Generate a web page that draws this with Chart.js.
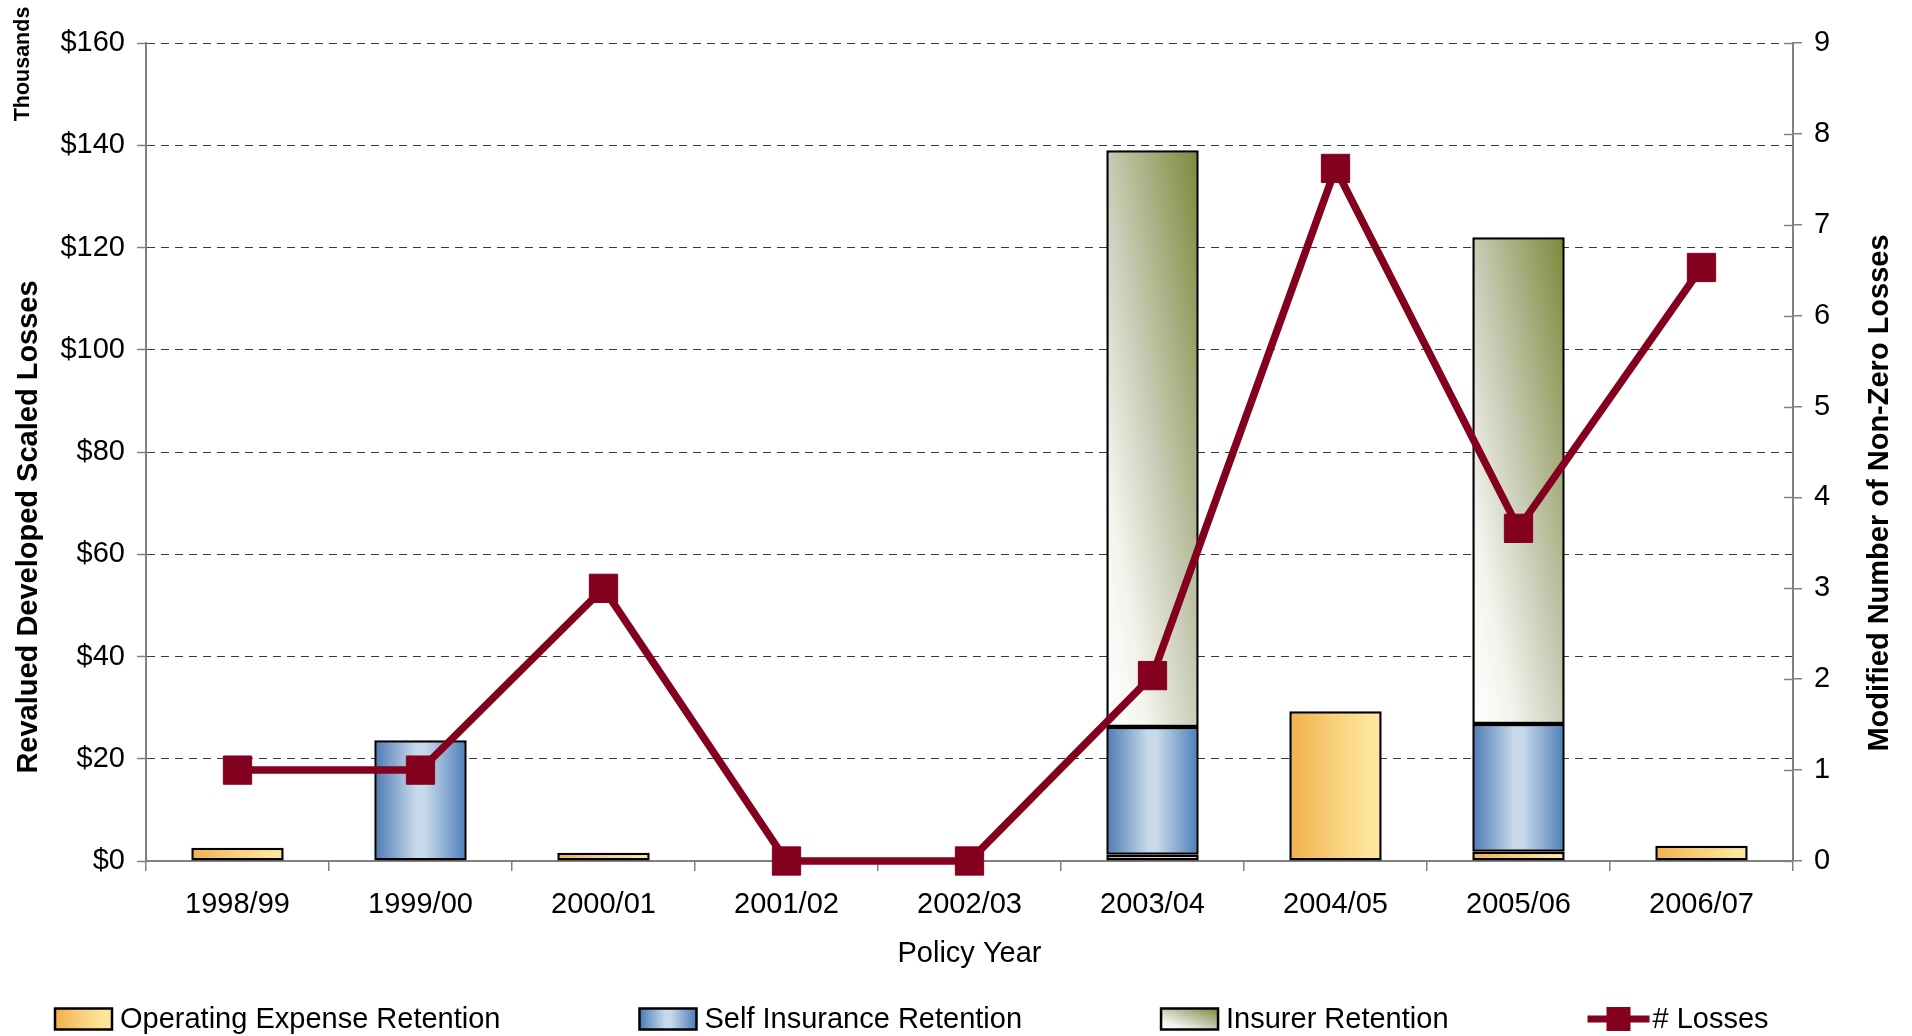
<!DOCTYPE html>
<html>
<head>
<meta charset="utf-8">
<script src="https://cdn.jsdelivr.net/npm/chart.js@4.4.0/dist/chart.umd.min.js"></script>
<style>
  html, body { margin: 0; padding: 0; background: #ffffff; }
  canvas { display: block; }
</style>
</head>
<body>
<canvas id="c" width="1912" height="1036"></canvas>
<script>
// ---------------- DATA ----------------
const categories = ['1998/99', '1999/00', '2000/01', '2001/02', '2002/03', '2003/04', '2004/05', '2005/06', '2006/07'];
const operatingExpense = [2.6, null, 1.6, null, null, 1.2, 29.3, 1.8, 3.0];   // $ thousands
const selfInsurance    = [null, 23.6, null, null, null, 25.0, null, 25.0, null];
const insurerRetention = [null, null, null, null, null, 112.8, null, 95.2, null];
const numLosses        = [1, 1, 3, 0, 0, 2.04, 7.62, 3.66, 6.53];
const leftTicks  = { min: 0, max: 160, step: 20 };
const rightTicks = { min: 0, max: 9, step: 1 };
const seriesNames = ['Operating Expense Retention', 'Self Insurance Retention', 'Insurer Retention', '# Losses'];
const xTitle = 'Policy Year';
const yTitle = 'Revalued Developed Scaled Losses';
const yUnit  = 'Thousands';
const y1Title = 'Modified Number of Non-Zero Losses';

// ---------------- STYLE ----------------
const FONT = '"Liberation Sans", Arial, sans-serif';
const LINE_COLOR = '#84001F';
const FALLBACKS = ['#F6C060', '#8FB0D6', '#B5BA95'];

function makeFill(c, kind, left, top, right, bottom) {
  if (![left, top, right, bottom].every(Number.isFinite)) return FALLBACKS[kind];
  let g;
  if (kind === 0) {
    g = c.createLinearGradient(left, 0, right, 0);
    g.addColorStop(0, '#F2AF4B');
    g.addColorStop(0.45, '#F9CE79');
    g.addColorStop(0.85, '#FEE497');
    g.addColorStop(1, '#FFE79C');
  } else if (kind === 1) {
    g = c.createLinearGradient(left, 0, right, 0);
    g.addColorStop(0, '#4B7AB5');
    g.addColorStop(0.45, '#C8D9EA');
    g.addColorStop(0.55, '#C8D9EA');
    g.addColorStop(1, '#4B7DB8');
  } else {
    const w = Math.max(right - left, 1), h = Math.max(bottom - top, 1);
    const k = 2 / (1 / (w * w) + 1 / (h * h));
    g = c.createLinearGradient(left, bottom, left + k / w, bottom - k / h);
    g.addColorStop(0, '#FFFFFF');
    g.addColorStop(0.22, '#F4F4EE');
    g.addColorStop(0.5, '#C9CCB6');
    g.addColorStop(1, '#7D883A');
  }
  return g;
}

function barFill(kind) {
  return function (ctx) {
    if (ctx.type !== 'data' || ctx.raw == null) return FALLBACKS[kind];
    const chart = ctx.chart;
    const xs = chart.scales.x, ys = chart.scales.y;
    if (!xs || !ys || !chart.chartArea) return FALLBACKS[kind];
    const idx = ctx.dataIndex;
    const cx = xs.getPixelForValue(idx);
    const half = xs.width / categories.length * 0.505 / 2;
    let start = 0;
    for (let d = 0; d < ctx.datasetIndex; d++) {
      const ds = chart.data.datasets[d];
      if (ds.type !== 'line') start += ds.data[idx] || 0;
    }
    const top = ys.getPixelForValue(start + ctx.raw);
    const bottom = ys.getPixelForValue(start);
    return makeFill(chart.ctx, kind, cx - half, top, cx + half, bottom);
  };
}

function drawRotated(c, text, x, y, font) {
  c.save();
  c.translate(x, y);
  c.rotate(-Math.PI / 2);
  c.font = font;
  c.textAlign = 'center';
  c.textBaseline = 'middle';
  c.fillStyle = '#000';
  c.fillText(text, 0, 0);
  c.restore();
}

const decor = {
  id: 'decor',
  afterDraw(chart) {
    const c = chart.ctx;
    drawRotated(c, yUnit, 23, 64, 'bold 21.5px ' + FONT);
    drawRotated(c, yTitle, 29, 527, 'bold 29px ' + FONT);
    drawRotated(c, y1Title, 1880, 493, 'bold 29px ' + FONT);

    // right-axis tick marks crossing to the inside of the axis
    const y1 = chart.scales.y1;
    c.save();
    c.strokeStyle = '#808080';
    c.lineWidth = 1.5;
    y1.ticks.forEach(t => {
      const py = Math.round(y1.getPixelForValue(t.value)) + 0.5;
      c.beginPath();
      c.moveTo(y1.left - 9, py); c.lineTo(y1.left, py);
      c.stroke();
    });
    c.restore();

    // legend
    const yc = 1019;
    const gap = 139;
    let x = 55;
    c.save();
    c.font = '29px ' + FONT;
    c.textBaseline = 'middle';
    c.textAlign = 'left';
    chart.data.datasets.forEach((ds, i) => {
      if (ds.type === 'line') {
        c.strokeStyle = ds.borderColor;
        c.lineWidth = 7;
        c.beginPath();
        c.moveTo(x, yc); c.lineTo(x + 62, yc);
        c.stroke();
        c.fillStyle = ds.borderColor;
        c.fillRect(x + 31 - 12, yc - 12, 24, 24);
        c.fillStyle = '#000';
        c.fillText(ds.label, x + 65, yc + 1);
        x += 65 + c.measureText(ds.label).width + gap;
      } else {
        const bw = 57, bh = 21;
        c.fillStyle = makeFill(c, i, x, yc - bh / 2, x + bw, yc + bh / 2);
        c.fillRect(x, yc - bh / 2, bw, bh);
        c.strokeStyle = '#000';
        c.lineWidth = 2.5;
        c.strokeRect(x, yc - bh / 2, bw, bh);
        c.fillStyle = '#000';
        c.fillText(ds.label, x + bw + 8, yc + 1);
        x += bw + 8 + c.measureText(ds.label).width + gap;
      }
    });
    c.restore();
  }
};

const barCommon = {
  type: 'bar',
  yAxisID: 'y',
  stack: 'losses',
  borderColor: '#000',
  borderWidth: 2.5,
  borderSkipped: false,
  barPercentage: 0.505,
  categoryPercentage: 1.0,
  order: 1
};

new Chart(document.getElementById('c'), {
  data: {
    labels: categories,
    datasets: [
      Object.assign({}, barCommon, { label: seriesNames[0], data: operatingExpense, backgroundColor: barFill(0) }),
      Object.assign({}, barCommon, { label: seriesNames[1], data: selfInsurance, backgroundColor: barFill(1) }),
      Object.assign({}, barCommon, { label: seriesNames[2], data: insurerRetention, backgroundColor: barFill(2) }),
      {
        type: 'line',
        label: seriesNames[3],
        data: numLosses,
        yAxisID: 'y1',
        borderColor: LINE_COLOR,
        backgroundColor: LINE_COLOR,
        borderWidth: 7.5,
        tension: 0,
        pointStyle: 'rect',
        pointRadius: 20,
        pointBackgroundColor: LINE_COLOR,
        pointBorderColor: LINE_COLOR,
        pointBorderWidth: 1,
        clip: false,
        order: 0
      }
    ]
  },
  options: {
    responsive: false,
    devicePixelRatio: 1,
    animation: false,
    events: [],
    layout: { padding: { left: 0, right: 0, top: 43, bottom: 65 } },
    plugins: {
      legend: { display: false },
      tooltip: { enabled: false },
      title: { display: false }
    },
    scales: {
      x: {
        type: 'category',
        stacked: true,
        offset: true,
        grid: { display: true, drawOnChartArea: false, drawTicks: true, tickLength: 10, color: '#808080', offset: true, lineWidth: 1.5 },
        border: { display: true, color: '#808080', width: 2 },
        ticks: { color: '#000', font: { family: FONT, size: 29 }, padding: 17, maxRotation: 0, autoSkip: false },
        title: { display: true, text: xTitle, color: '#000', font: { family: FONT, size: 29 }, padding: 0 },
        afterFit: s => { s.height = 110; }
      },
      y: {
        position: 'left',
        stacked: true,
        min: leftTicks.min,
        max: leftTicks.max,
        ticks: { stepSize: leftTicks.step, color: '#000', font: { family: FONT, size: 29 }, padding: 12, callback: v => '$' + v },
        grid: { color: '#3c3c3c', lineWidth: 1, tickLength: 9, tickColor: '#808080', tickWidth: 1.5 },
        border: { display: true, color: '#808080', width: 2, dash: [8, 6] },
        afterFit: s => { s.width = 146; }
      },
      y1: {
        position: 'right',
        min: rightTicks.min,
        max: rightTicks.max,
        ticks: { stepSize: rightTicks.step, color: '#000', font: { family: FONT, size: 29 }, padding: 12 },
        grid: { drawOnChartArea: false, tickLength: 9, color: '#808080', lineWidth: 1.5 },
        border: { display: true, color: '#808080', width: 2 },
        afterFit: s => { s.width = 119; }
      }
    }
  },
  plugins: [decor]
});
</script>
</body>
</html>
